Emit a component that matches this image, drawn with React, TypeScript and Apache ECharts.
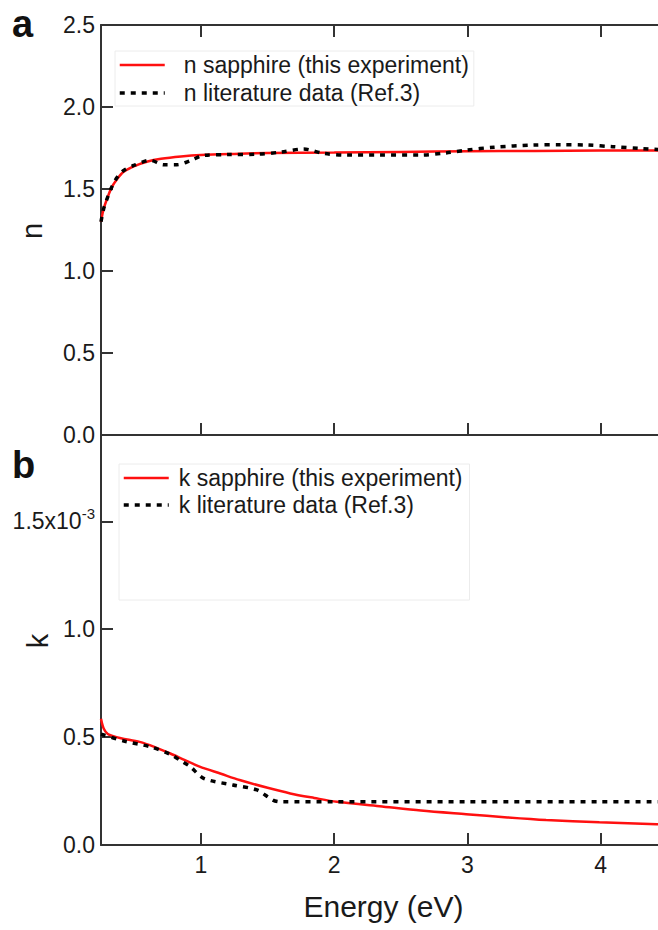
import { useEffect, useRef } from "react";
import * as echarts from "echarts";

// Photon energy (eV) and refractive index n
const nExpE = [0.25, 0.27, 0.3, 0.33, 0.37, 0.42, 0.5, 0.6, 0.7, 0.85, 1.0, 1.25, 1.5, 2.0, 2.5, 3.0, 3.5, 4.0, 4.5];
const nExpV = [1.3, 1.38, 1.45, 1.51, 1.56, 1.605, 1.64, 1.668, 1.684, 1.698, 1.707, 1.714, 1.719, 1.722, 1.726, 1.73, 1.732, 1.734, 1.735];

const nLitE = [0.25, 0.27, 0.3, 0.33, 0.37, 0.415, 0.5, 0.62, 0.72, 0.82, 0.92, 1.02, 1.2, 1.42, 1.6, 1.77, 1.92, 2.1, 2.34, 2.64, 2.84, 2.99, 3.2, 3.49, 3.7, 3.9, 4.09, 4.3, 4.5];
const nLitV = [1.3, 1.38, 1.45, 1.51, 1.57, 1.61, 1.645, 1.675, 1.648, 1.648, 1.672, 1.705, 1.71, 1.712, 1.725, 1.744, 1.717, 1.707, 1.707, 1.707, 1.72, 1.737, 1.755, 1.768, 1.77, 1.768, 1.758, 1.747, 1.738];

// Extinction coefficient k, in units of 1e-3
const kExpE = [0.25, 0.27, 0.3, 0.33, 0.4, 0.54, 0.65, 0.77, 0.88, 0.99, 1.15, 1.29, 1.5, 1.67, 1.85, 2.02, 2.34, 2.65, 2.99, 3.3, 3.59, 3.99, 4.42, 4.5];
const kExpV = [0.585, 0.54, 0.515, 0.507, 0.495, 0.478, 0.455, 0.424, 0.393, 0.363, 0.33, 0.301, 0.265, 0.239, 0.218, 0.2, 0.18, 0.16, 0.143, 0.128, 0.116, 0.105, 0.096, 0.094];

const kLitE = [0.25, 0.415, 0.62, 0.77, 0.85, 0.92, 1.02, 1.24, 1.42, 1.54, 1.6, 2.0, 3.0, 4.0, 4.5];
const kLitV = [0.514, 0.483, 0.455, 0.42, 0.39, 0.363, 0.309, 0.278, 0.255, 0.208, 0.2, 0.2, 0.2, 0.2, 0.2];

const xTicks = [1, 2, 3, 4];
const nTicks = [0, 0.5, 1, 1.5, 2, 2.5];
const kTicks = [0, 0.5, 1, 1.5];

const nNames = ["n sapphire (this experiment)", "n literature data (Ref.3)"];
const kNames = ["k sapphire (this experiment)", "k literature data (Ref.3)"];

const FONT = "Liberation Sans, Arial, sans-serif";
const AXIS = "#333333";
const TEXT = "#1a1a1a";
const RED = "#ff1010";

const pairs = (x: number[], y: number[]) => x.map((v, i) => [v, y[i]]);

export default function App() {
  const ref = useRef<HTMLDivElement>(null);

  useEffect(() => {
    if (!ref.current) return;
    const chart = echarts.init(ref.current, null, { renderer: "svg" });

    const axisLine = { show: true, onZero: false, lineStyle: { color: AXIS, width: 2 } };
    const tick = { show: true, inside: true, length: 12, lineStyle: { color: AXIS, width: 2 } };
    const label = { color: TEXT, fontSize: 23, fontFamily: FONT };

    const xBase = {
      type: "value",
      min: 0.25,
      max: 4.49,
      axisLine,
      splitLine: { show: false },
    };

    const legendBase = {
      orient: "vertical",
      itemWidth: 45,
      itemHeight: 14,
      selectedMode: false,
      backgroundColor: "#ffffff",
      borderColor: "#ececec",
      borderWidth: 1,
      // line-only legend keys: hide the marker that line series add
      itemStyle: { opacity: 0 },
    };

    chart.setOption({
      animation: false,
      backgroundColor: "#ffffff",
      grid: [
        { left: 101, top: 25, width: 565, height: 410 },
        { left: 101, top: 435, width: 565, height: 410 },
      ],
      xAxis: [
        { ...xBase, gridIndex: 0, position: "bottom", axisTick: { ...tick, customValues: xTicks }, axisLabel: { show: false } },
        { ...xBase, gridIndex: 0, position: "top", axisTick: { ...tick, customValues: xTicks }, axisLabel: { show: false } },
        {
          ...xBase,
          gridIndex: 1,
          position: "bottom",
          axisTick: { ...tick, customValues: xTicks },
          axisLabel: { ...label, show: true, margin: 8, customValues: xTicks },
          name: "Energy (eV)",
          nameLocation: "middle",
          nameGap: 46,
          nameTextStyle: { color: TEXT, fontSize: 30, fontFamily: FONT },
        },
      ],
      yAxis: [
        {
          type: "value",
          gridIndex: 0,
          min: 0,
          max: 2.5,
          axisLine,
          splitLine: { show: false },
          axisTick: { ...tick, customValues: nTicks },
          axisLabel: { ...label, margin: 6, customValues: nTicks, formatter: (v: number) => v.toFixed(1) },
        },
        {
          type: "value",
          gridIndex: 1,
          min: 0,
          max: 1.9,
          axisLine,
          splitLine: { show: false },
          axisTick: { ...tick, customValues: kTicks },
          axisLabel: {
            ...label,
            margin: 6,
            customValues: kTicks,
            formatter: (v: number) => (v === 1.5 ? "{m|1.5x10}{s|-3}" : v.toFixed(1)),
            rich: {
              m: { fontSize: 23, lineHeight: 30, fontFamily: FONT, color: TEXT },
              s: { fontSize: 15, lineHeight: 15, verticalAlign: "top", fontFamily: FONT, color: TEXT },
            },
          },
        },
      ],
      legend: [
        {
          ...legendBase,
          left: 115,
          top: 51,
          padding: [2, 5, 1, 3],
          itemGap: 4,
          textStyle: { color: TEXT, fontSize: 23, lineHeight: 24, fontFamily: FONT, padding: [0, 0, 0, 14] },
          data: [
            { name: nNames[0], lineStyle: { width: 2.5 } },
            { name: nNames[1], lineStyle: { width: 3.5 } },
          ],
        },
        {
          ...legendBase,
          left: 119,
          top: 464,
          padding: [2, 7, 83, 3],
          itemGap: 3,
          textStyle: { color: TEXT, fontSize: 23, lineHeight: 24, fontFamily: FONT, padding: [0, 0, 0, 5] },
          data: [
            { name: kNames[0], lineStyle: { width: 2.5 } },
            { name: kNames[1], lineStyle: { width: 3.5 } },
          ],
        },
      ],
      series: [
        {
          name: nNames[0],
          type: "line",
          xAxisIndex: 0,
          yAxisIndex: 0,
          data: pairs(nExpE, nExpV),
          smooth: 0.3,
          symbol: "none",
          lineStyle: { color: RED, width: 2.5 },
          itemStyle: { color: RED },
        },
        {
          name: nNames[1],
          type: "line",
          xAxisIndex: 0,
          yAxisIndex: 0,
          data: pairs(nLitE, nLitV),
          smooth: 0.3,
          symbol: "none",
          lineStyle: { color: "#000000", width: 3.5, type: [5, 6] },
          itemStyle: { color: "#000000" },
        },
        {
          name: kNames[0],
          type: "line",
          xAxisIndex: 2,
          yAxisIndex: 1,
          data: pairs(kExpE, kExpV),
          smooth: 0.3,
          symbol: "none",
          lineStyle: { color: RED, width: 2.5 },
          itemStyle: { color: RED },
        },
        {
          name: kNames[1],
          type: "line",
          xAxisIndex: 2,
          yAxisIndex: 1,
          data: pairs(kLitE, kLitV),
          smooth: 0.3,
          symbol: "none",
          lineStyle: { color: "#000000", width: 3.5, type: [5, 6] },
          itemStyle: { color: "#000000" },
        },
      ],
      graphic: [
        { type: "text", left: 12, top: 5, style: { text: "a", fontSize: 38, fontWeight: "bold", fontFamily: FONT, fill: "#111" } },
        { type: "text", left: 12, top: 446, style: { text: "b", fontSize: 38, fontWeight: "bold", fontFamily: FONT, fill: "#111" } },
        {
          type: "text",
          x: 32,
          y: 231,
          rotation: Math.PI / 2,
          style: { text: "n", fontSize: 29, fontFamily: FONT, fill: TEXT, align: "center", verticalAlign: "middle" },
        },
        {
          type: "text",
          x: 38,
          y: 641,
          rotation: Math.PI / 2,
          style: { text: "k", fontSize: 29, fontFamily: FONT, fill: TEXT, align: "center", verticalAlign: "middle" },
        },
      ],
    });

    return () => chart.dispose();
  }, []);

  return (
    <div style={{ position: "absolute", left: 0, top: 0, width: 658, height: 930, overflow: "hidden", background: "#ffffff" }}>
      <div ref={ref} style={{ width: 680, height: 930 }} />
    </div>
  );
}
